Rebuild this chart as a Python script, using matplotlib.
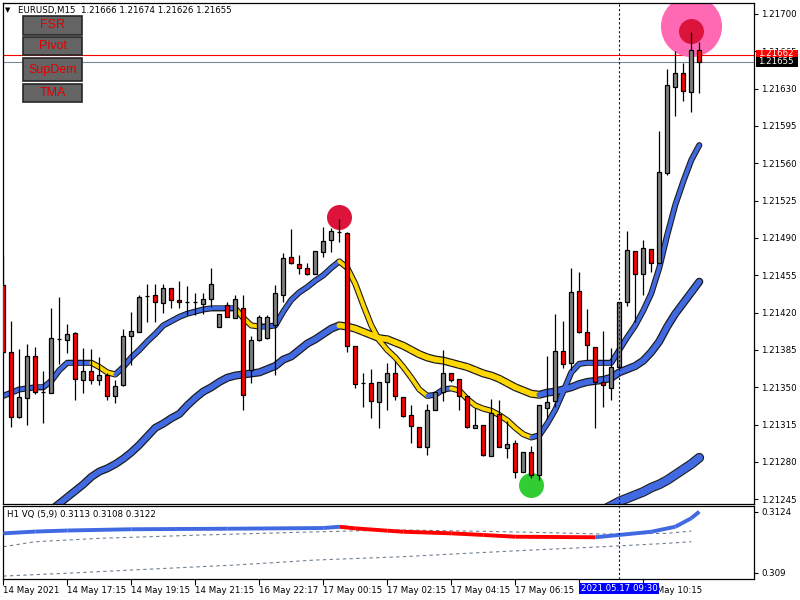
import matplotlib
matplotlib.use("Agg")
import matplotlib.pyplot as plt
from matplotlib.collections import LineCollection
from matplotlib.patches import Rectangle

# EURUSD M15 candles (bar index 0..87)
opens = [1.21446, 1.21383, 1.21322, 1.21340, 1.21379, 1.21346, 1.21345, 1.21395, 1.21394, 1.21401,
         1.21357, 1.21365, 1.21357, 1.21362, 1.21342, 1.21352, 1.21398, 1.21402, 1.21436, 1.21437,
         1.21429, 1.21443, 1.21432, 1.21430, 1.21430, 1.21428, 1.21433, 1.21407, 1.21427, 1.21415,
         1.21424, 1.21366, 1.21394, 1.21396, 1.21408, 1.21437, 1.21472, 1.21466, 1.21462, 1.21456,
         1.21477, 1.21488, 1.21496, 1.21495, 1.21389, 1.21354, 1.21354, 1.21336, 1.21355, 1.21363,
         1.21341, 1.21324, 1.21313, 1.21294, 1.21329, 1.21346, 1.21363, 1.21358, 1.21342, 1.21312,
         1.21315, 1.21286, 1.21325, 1.21293, 1.21298, 1.21271, 1.21289, 1.21268, 1.21331, 1.21337,
         1.21384, 1.21373, 1.21440, 1.21402, 1.21388, 1.21355, 1.21349, 1.21369, 1.21430, 1.21478,
         1.21456, 1.21480, 1.21467, 1.21551, 1.21632, 1.21645, 1.21627, 1.21666]
highs = [1.21474, 1.21412, 1.21386, 1.21391, 1.21388, 1.21365, 1.21424, 1.21435, 1.21409, 1.21402,
         1.21387, 1.21386, 1.21378, 1.21363, 1.21357, 1.21405, 1.21421, 1.21437, 1.21447, 1.21447,
         1.21447, 1.21443, 1.21450, 1.21445, 1.21438, 1.21438, 1.21462, 1.21419, 1.21430, 1.21437,
         1.21437, 1.21398, 1.21418, 1.21418, 1.21446, 1.21476, 1.21498, 1.21474, 1.21467, 1.21478,
         1.21500, 1.21499, 1.21508, 1.21496, 1.21389, 1.21363, 1.21367, 1.21355, 1.21373, 1.21375,
         1.21341, 1.21333, 1.21313, 1.21334, 1.21346, 1.21385, 1.21363, 1.21358, 1.21342, 1.21331,
         1.21315, 1.21339, 1.21338, 1.21318, 1.21301, 1.21289, 1.21295, 1.21333, 1.21379, 1.21419,
         1.21412, 1.21462, 1.21458, 1.21423, 1.21388, 1.21403, 1.21387, 1.21430, 1.21497, 1.21478,
         1.21488, 1.21480, 1.21590, 1.21648, 1.21665, 1.21654, 1.21683, 1.21674]
lows = [1.21381, 1.21313, 1.21321, 1.21315, 1.21344, 1.21317, 1.21345, 1.21372, 1.21382, 1.21338,
        1.21345, 1.21353, 1.21352, 1.21338, 1.21335, 1.21351, 1.21371, 1.21402, 1.21411, 1.21411,
        1.21420, 1.21424, 1.21424, 1.21418, 1.21418, 1.21419, 1.21425, 1.21407, 1.21416, 1.21415,
        1.21329, 1.21354, 1.21393, 1.21395, 1.21362, 1.21430, 1.21466, 1.21456, 1.21455, 1.21456,
        1.21472, 1.21477, 1.21486, 1.21383, 1.21349, 1.21332, 1.21321, 1.21312, 1.21329, 1.21338,
        1.21322, 1.21298, 1.21294, 1.21287, 1.21329, 1.21337, 1.21355, 1.21329, 1.21312, 1.21312,
        1.21286, 1.21286, 1.21294, 1.21284, 1.21265, 1.21271, 1.21265, 1.21263, 1.21320, 1.21332,
        1.21368, 1.21366, 1.21401, 1.21376, 1.21312, 1.21332, 1.21338, 1.21369, 1.21426, 1.21411,
        1.21437, 1.21458, 1.21467, 1.21549, 1.21604, 1.21618, 1.21608, 1.21626]
closes = [1.21383, 1.21322, 1.21341, 1.21379, 1.21346, 1.21346, 1.21396, 1.21395, 1.21400, 1.21358,
          1.21365, 1.21357, 1.21362, 1.21342, 1.21351, 1.21398, 1.21403, 1.21435, 1.21436, 1.21430,
          1.21443, 1.21432, 1.21430, 1.21430, 1.21430, 1.21433, 1.21447, 1.21419, 1.21416, 1.21433,
          1.21343, 1.21394, 1.21416, 1.21416, 1.21438, 1.21471, 1.21467, 1.21462, 1.21456, 1.21478,
          1.21487, 1.21497, 1.21496, 1.21389, 1.21353, 1.21354, 1.21337, 1.21355, 1.21363, 1.21342,
          1.21323, 1.21314, 1.21294, 1.21329, 1.21346, 1.21363, 1.21357, 1.21342, 1.21313, 1.21315,
          1.21287, 1.21326, 1.21294, 1.21297, 1.21271, 1.21289, 1.21268, 1.21333, 1.21336, 1.21384,
          1.21372, 1.21439, 1.21402, 1.21390, 1.21355, 1.21352, 1.21369, 1.21430, 1.21479, 1.21456,
          1.21481, 1.21467, 1.21552, 1.21633, 1.21645, 1.21628, 1.21666, 1.21655]

# moving averages
ma_fast_bars = list(range(0, 88))
ma_fast = [1.21342, 1.21345, 1.21348, 1.21349, 1.21350, 1.21350, 1.21356, 1.21366, 1.21373, 1.21373,
           1.21373, 1.21373, 1.21369, 1.21364, 1.21362, 1.21369, 1.21378, 1.21385, 1.21393, 1.21400,
           1.21408, 1.21412, 1.21416, 1.21419, 1.21421, 1.21423, 1.21424, 1.21424, 1.21424, 1.21424,
           1.21415, 1.21408, 1.21407, 1.21407, 1.21408, 1.21421, 1.21432, 1.21439, 1.21444, 1.21450,
           1.21455, 1.21462, 1.21468, 1.21462, 1.21447, 1.21427, 1.21408, 1.21394, 1.21385, 1.21378,
           1.21369, 1.21359, 1.21348, 1.21342, 1.21343, 1.21348, 1.21349, 1.21347, 1.21339, 1.21333,
           1.21330, 1.21328, 1.21324, 1.21319, 1.21312, 1.21306, 1.21303, 1.21305, 1.21316, 1.21329,
           1.21346, 1.21364, 1.21372, 1.21373, 1.21373, 1.21373, 1.21373, 1.21385, 1.21397, 1.21408,
           1.21422, 1.21438, 1.21462, 1.21493, 1.21521, 1.21543, 1.21563, 1.21577]
ma_mid_bars = list(range(5, 88))
ma_mid = [1.21228, 1.21235, 1.21241, 1.21247, 1.21253, 1.21259, 1.21266, 1.21271, 1.21274, 1.21278,
          1.21283, 1.21289, 1.21296, 1.21304, 1.21312, 1.21316, 1.21321, 1.21325, 1.21333, 1.21340,
          1.21346, 1.21350, 1.21355, 1.21359, 1.21361, 1.21362, 1.21363, 1.21364, 1.21367, 1.21370,
          1.21376, 1.21379, 1.21385, 1.21391, 1.21395, 1.21400, 1.21405, 1.21408, 1.21407, 1.21405,
          1.21402, 1.21399, 1.21396, 1.21395, 1.21392, 1.21389, 1.21385, 1.21381, 1.21378, 1.21376,
          1.21375, 1.21373, 1.21371, 1.21369, 1.21366, 1.21363, 1.21361, 1.21358, 1.21354, 1.21350,
          1.21347, 1.21344, 1.21343, 1.21345, 1.21346, 1.21348, 1.21350, 1.21353, 1.21355, 1.21356,
          1.21357, 1.21359, 1.21364, 1.21367, 1.21370, 1.21375, 1.21383, 1.21393, 1.21407, 1.21419,
          1.21429, 1.21439, 1.21449]
ma_slow_bars = list(range(75, 88))
ma_slow = [1.21235, 1.21239, 1.21243, 1.21246, 1.21249, 1.21252, 1.21256, 1.21259, 1.21263, 1.21268,
           1.21273, 1.21278, 1.21284]

# signal circles
sig_bars = [42, 66, 86]
sig_prices = [1.21510, 1.21258, 1.21684]
halo_bar = 86
halo_price = 1.21689

# VQ indicator (H1)
vq_bars = [0, 4, 8, 16, 28, 40, 42, 44, 48, 50, 56, 60, 64, 74, 77, 81, 84, 86, 87]
vq = [0.31120, 0.31130, 0.31136, 0.31143, 0.31146, 0.31150, 0.31157, 0.31148, 0.31135, 0.31129,
      0.31120, 0.31111, 0.31101, 0.31098, 0.31111, 0.31129, 0.31157, 0.31205, 0.31242]
lvl_bars = [0, 4, 12, 25, 37, 45, 50, 58, 66, 75, 83, 86]
lvl_up = [0.31045, 0.31073, 0.31092, 0.31111, 0.31126, 0.31135, 0.31139, 0.31133, 0.31126, 0.31116,
          0.31120, 0.31133]
lvl_dn_bars = [0, 8, 16, 29, 39, 50, 58, 66, 75, 83, 86]
lvl_dn = [0.30880, 0.30896, 0.30914, 0.30942, 0.30970, 0.30989, 0.31008, 0.31026, 0.31045, 0.31064,
          0.31073]

price_ticks = [1.21245 + 0.00035 * k for k in range(14)]
time_tick_bars = [0, 8, 16, 24, 32, 40, 48, 56, 64, 72, 80]
# the 08:15 label sits under the cursor time box, so it stays blank
time_labels = ["14 May 2021", "14 May 17:15", "14 May 19:15", "14 May 21:15", "16 May 22:17",
               "17 May 00:15", "17 May 02:15", "17 May 04:15", "17 May 06:15", "",
               "17 May 10:15"]
cursor_bar = 77
cursor_label = "2021.05.17 09:30"
bid = 1.21655
ask = 1.21662

BLUE = "#4169e1"
GOLD = "#ffd700"
FS = 6.2

fig = plt.figure(figsize=(8, 6), dpi=100)
W, H = 800.0, 600.0
ax = fig.add_axes([3 / W, 1 - 504 / H, 751 / W, 501 / H])
ax2 = fig.add_axes([3 / W, 1 - 579 / H, 751 / W, 73 / H])

xl = (-0.04, 93.84)
ax.set_xlim(*xl)
ax.set_ylim(1.212406, 1.217103)
ax2.set_xlim(*xl)
ax2.set_ylim(0.308635, 0.312737)


def ma_line(a, bars, vals, w_out, w_in, up, down):
    a.plot(bars, vals, color="#1c1c1c", lw=w_out, solid_capstyle="round", zorder=2)
    segs, cols = [], []
    for k in range(len(vals) - 1):
        segs.append([(bars[k], vals[k]), (bars[k + 1], vals[k + 1])])
        cols.append(down if vals[k + 1] < vals[k] else up)
    a.add_collection(LineCollection(segs, colors=cols, linewidths=w_in, capstyle="round", zorder=2.1))


ma_line(ax, ma_slow_bars, ma_slow, 7.0, 5.4, BLUE, GOLD)
ma_line(ax, ma_mid_bars, ma_mid, 5.8, 4.0, BLUE, GOLD)
ma_line(ax, ma_fast_bars, ma_fast, 4.4, 2.8, BLUE, GOLD)

# signal circles
ax.plot([halo_bar], [halo_price], "o", ms=44, color="#ff69b4", mec="none", zorder=1.5)
sig_cols = ["#dc143c", "#32cd32", "#dc143c"]
for b, p, c in zip(sig_bars, sig_prices, sig_cols):
    ax.plot([b], [p], "o", ms=18, color=c, mec="none", zorder=1.6)

# bid / ask
ax.axhline(ask, color="#ff0000", lw=0.8, zorder=1)
ax.axhline(bid, color="#778899", lw=0.8, zorder=1)

# candles
for i in range(len(opens)):
    o, h, l, c = opens[i], highs[i], lows[i], closes[i]
    ax.vlines(i, l, h, color="black", lw=0.9, zorder=3)
    col = "#ff0000" if c < o else "#808080"
    lo, hi = min(o, c), max(o, c)
    ax.add_patch(Rectangle((i - 0.25, lo), 0.5, hi - lo, facecolor=col, edgecolor="black",
                           lw=0.9, zorder=3.1))

# cursor line
for a in (ax, ax2):
    a.axvline(cursor_bar, color="#0000cc", lw=0.8, ls=(0, (2, 2)), zorder=4)

# axes styling
for a in (ax, ax2):
    for s in a.spines.values():
        s.set_linewidth(0.9)
        s.set_color("black")
ax.set_xticks([])
ax.yaxis.tick_right()
ax.set_yticks(price_ticks)
ax.set_yticklabels(["%.5f" % p for p in price_ticks])
ax.tick_params(axis="y", length=3, width=0.8, labelsize=FS, pad=2)

ax2.yaxis.tick_right()
ax2.set_yticks([0.3124, 0.309])
ax2.set_yticklabels(["0.3124", "0.309"])
ax2.tick_params(axis="y", length=3, width=0.8, labelsize=FS, pad=2)
ax2.set_xticks(time_tick_bars)
ax2.set_xticklabels(time_labels)
ax2.tick_params(axis="x", length=4, width=0.8, labelsize=FS, pad=1)
for t in ax2.get_xticklabels():
    t.set_horizontalalignment("left")

# VQ indicator
ax2.plot(lvl_bars, lvl_up, color="#708090", lw=0.8, ls=(0, (3, 3)))
ax2.plot(lvl_dn_bars, lvl_dn, color="#708090", lw=0.8, ls=(0, (3, 3)))
segs, cols = [], []
for k in range(len(vq) - 1):
    segs.append([(vq_bars[k], vq[k]), (vq_bars[k + 1], vq[k + 1])])
    cols.append("#ff0000" if vq[k + 1] < vq[k] else BLUE)
ax2.add_collection(LineCollection(segs, colors=cols, linewidths=2.8, capstyle="butt", zorder=3))

# header texts
ax.text(5 / W, 1 - 10 / H, "\u25bc", transform=fig.transFigure, fontsize=5, va="center", ha="left")
ax.text(18 / W, 1 - 10 / H, "EURUSD,M15  %.5f %.5f %.5f %.5f" % (opens[-1], highs[-1], lows[-1], closes[-1]),
        transform=fig.transFigure, fontsize=FS, va="center", ha="left")
fig.text(7 / W, 1 - 515 / H, "H1 VQ (5,9) 0.3113 0.3108 0.3122", fontsize=FS, va="center", ha="left")

# buttons
buttons = [("FSR", 16, 35), ("Pivot", 37, 55), ("SupDem", 58, 81), ("TMA", 84, 102)]
for name, y0, y1 in buttons:
    fig.add_artist(Rectangle((23 / W, 1 - y1 / H), 59 / W, (y1 - y0) / H, transform=fig.transFigure,
                             facecolor="#646464", edgecolor="#262626", lw=1.2))
    fig.text(52.5 / W, 1 - (y0 + y1) / 2 / H, name, color="#e00000", fontsize=9,
             family="Liberation Sans", ha="center", va="center")

# price boxes on right axis
fig.add_artist(Rectangle((756 / W, 1 - 57 / H), 42 / W, 7 / H, transform=fig.transFigure,
                         facecolor="#ff0000", edgecolor="none"))
fig.text(776 / W, 1 - 54 / H, "%.5f" % ask, color="white", fontsize=FS, ha="center", va="center")
fig.add_artist(Rectangle((756 / W, 1 - 66.5 / H), 42 / W, 9.5 / H, transform=fig.transFigure,
                         facecolor="black", edgecolor="none"))
fig.text(776 / W, 1 - 62 / H, "%.5f" % bid, color="white", fontsize=FS, ha="center", va="center")

# cursor time box
fig.add_artist(Rectangle((579 / W, 1 - 594 / H), 80 / W, 11 / H, transform=fig.transFigure,
                         facecolor="#0000ff", edgecolor="none"))
fig.text(619 / W, 1 - 588.5 / H, cursor_label, color="white", fontsize=FS, ha="center", va="center")

fig.savefig("out.png", dpi=100, facecolor="white")
